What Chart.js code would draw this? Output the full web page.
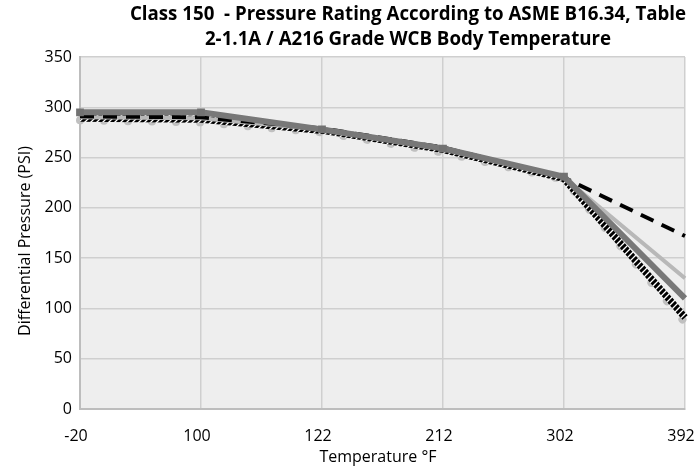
<!DOCTYPE html>
<html><head><meta charset="utf-8">
<script src="https://cdn.jsdelivr.net/npm/chart.js@4"></script>
<style>html,body{margin:0;padding:0;background:#fff}canvas{display:block}</style>
</head><body>
<canvas id="c" width="696" height="467"></canvas>
<script>
const categories = ['-20', '100', '122', '212', '302', '392'];
const seriesDarkGray = [295, 295, 278, 259, 231, 110];
const seriesDashed = [291, 290, 279, 260, 230, 172];
const seriesLightGray = [290, 289, 278, 259, 230, 130];
const seriesHatched = [289, 288, 277, 258, 229, 91];
const seriesDots = [287, 285, 275, 255, 228, 86];
const titleLines = ['Class 150  - Pressure Rating According to ASME B16.34, Table', '2-1.1A / A216 Grade WCB Body Temperature'];
const yTitle = 'Differential Pressure (PSI)';
const xTitle = 'Temperature \u00B0F';

const FONT = "'Open Sans', 'Noto Sans', sans-serif";

function hatch() {
  const n = 6;
  const p = document.createElement('canvas');
  p.width = n; p.height = n;
  const g = p.getContext('2d');
  g.fillStyle = '#fff'; g.fillRect(0, 0, n, n);
  g.strokeStyle = '#000'; g.lineWidth = 3;
  g.beginPath();
  g.moveTo(0, n); g.lineTo(n, 0);
  g.moveTo(-n, n); g.lineTo(n, -n);
  g.moveTo(0, 2 * n); g.lineTo(2 * n, 0);
  g.stroke();
  return g.createPattern(p, 'repeat');
}

const bgPlugin = {
  id: 'bg',
  beforeDraw(chart) {
    const {ctx, chartArea: a} = chart;
    ctx.save();
    ctx.fillStyle = '#eeeeee';
    ctx.fillRect(a.left, a.top, a.right - a.left, a.bottom - a.top);
    ctx.restore();
  },
  afterDraw(chart) {
    const ctx = chart.ctx;
    ctx.save();
    ctx.fillStyle = '#000';
    ctx.textAlign = 'center';
    ctx.textBaseline = 'middle';
    ctx.font = "bold 18.7px " + FONT;
    ctx.fillText(titleLines[0], 408, 15);
    ctx.fillText(titleLines[1], 408, 40);
    ctx.font = "16px " + FONT;
    ctx.fillText(xTitle, 378, 457);
    ctx.translate(25, 241);
    ctx.rotate(-Math.PI / 2);
    ctx.fillText(yTitle, 0, 0);
    ctx.restore();
  }
};

new Chart(document.getElementById('c'), {
  type: 'line',
  data: {
    labels: categories,
    datasets: [
      {label: 'A', data: seriesDarkGray, borderColor: '#787878', backgroundColor: '#727272', borderWidth: 6,
       pointStyle: 'rect', pointRadius: [5.5, 5.5, 5.5, 5.5, 5.5, 0], pointBorderWidth: 0, order: 1, tension: 0},
      {label: 'B', data: seriesDashed, borderColor: '#000', borderWidth: 4, borderDash: [14, 9],
       pointRadius: 0, order: 2, tension: 0},
      {label: 'C', data: seriesLightGray, borderColor: '#b8b8b8', borderWidth: 4,
       pointRadius: 0, order: 3, tension: 0},
      {label: 'D', data: seriesHatched, borderColor: hatch(), borderWidth: 7,
       pointRadius: 0, order: 4, tension: 0},
      {label: 'E', data: seriesDots, borderColor: '#c0c0c0', borderWidth: 8, borderDash: [0.01, 24],
       borderCapStyle: 'round', pointRadius: 0, order: 5, tension: 0}
    ]
  },
  options: {
    responsive: false,
    devicePixelRatio: 1,
    animation: false,
    layout: {padding: {left: 0, right: 11, top: 57, bottom: 0}},
    plugins: {legend: {display: false}, tooltip: {enabled: false}, title: {display: false}},
    scales: {
      x: {
        offset: false,
        grid: {color: '#cfcfcf', lineWidth: 1.5, drawTicks: false},
        border: {color: '#bdbdbd', width: 2},
        ticks: {color: '#000', font: {family: FONT, size: 16}, padding: 18, maxRotation: 0, labelOffset: -4},
        afterFit(s) { s.height = 58; s.paddingRight = 0; s.paddingLeft = 0; }
      },
      y: {
        min: 0, max: 350,
        grid: {color: '#cfcfcf', lineWidth: 1.5, drawTicks: false},
        border: {color: '#bdbdbd', width: 2},
        ticks: {stepSize: 50, color: '#000', font: {family: FONT, size: 16}, padding: 8},
        afterFit(s) { s.width = 80; s.paddingTop = 0; s.paddingBottom = 0; }
      }
    }
  },
  plugins: [bgPlugin]
});
</script>
</body></html>
